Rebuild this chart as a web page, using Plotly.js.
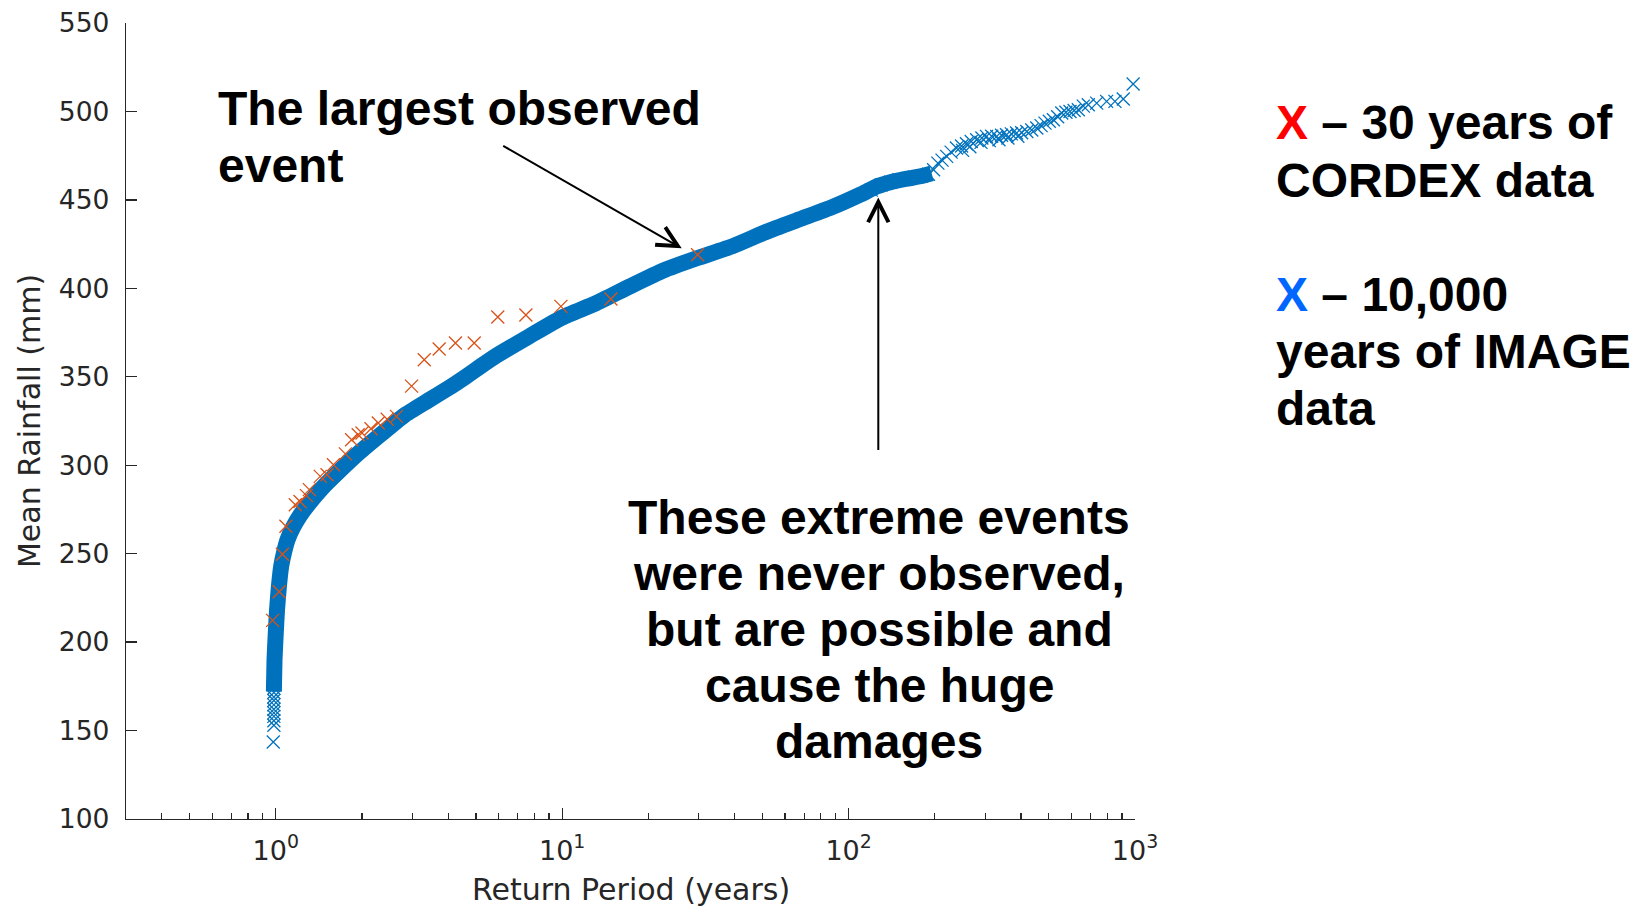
<!DOCTYPE html>
<html><head><meta charset="utf-8">
<script src="https://cdn.plot.ly/plotly-3.0.1.min.js"></script>
<style>html,body{margin:0;padding:0;background:#fff;} #chart{width:1645px;height:908px;}</style>
</head><body><div id="chart"></div>
<script>
// ---- DATA ----
// CORDEX, 30 years: return period (years) and mean rainfall (mm)
const cordexPeriod = [0.975, 1.028, 1.055, 1.085, 1.17, 1.215, 1.28, 1.31, 1.43, 1.51, 1.59, 1.75, 1.84, 1.94, 2.0, 2.15, 2.28, 2.45, 2.64, 2.98, 3.3, 3.72, 4.24, 4.93, 5.96, 7.47, 9.9, 14.8, 29.7];
const cordexRain   = [212.3, 228.5, 249.7, 265.5, 277.7, 279.5, 282.8, 286.2, 293.7, 294.6, 300.3, 306.4, 314.4, 317.2, 318.2, 320.6, 323.9, 326, 327.6, 344.7, 359.6, 365.7, 369.1, 369.1, 383.8, 384.9, 389.8, 394, 419];

// IMAGE, 10,000 years: centre of the dense band of markers
const imageBandPeriod = [0.985, 0.99, 1.0, 1.01, 1.025, 1.045, 1.07, 1.1, 1.15, 1.22, 1.3, 1.45, 1.65, 1.95, 2.35, 2.8, 3.4, 4.0, 4.6, 5.2, 5.9, 7.7, 10, 13.1, 17.2, 22.5, 29.5, 39.6, 51.7, 67.4, 88, 110, 125, 140, 160, 180, 195];
const imageBandRain   = [172, 190, 205, 218, 231, 243, 251, 258, 265, 272, 278, 287, 296, 307, 318, 328, 336.5, 343.5, 350, 356, 362, 373, 383.5, 391.5, 401, 410, 417, 424, 432, 439, 446, 453, 457.5, 460, 462, 463.5, 465];

// IMAGE: individually visible markers, low tail
const imageLowPeriod = [0.98, 0.985, 0.985, 0.985, 0.985, 0.985, 0.985, 0.985, 0.985, 0.985, 0.985];
const imageLowRain   = [143.5, 153, 155.5, 158, 160, 162, 164.5, 167, 169, 171.5, 174];

// IMAGE: individually visible markers, upper tail
const imageHighPeriod = [120, 130, 140, 150, 160, 170, 180, 190, 198, 205, 212, 220, 228, 238, 248, 250, 258, 265, 268, 280, 290, 292, 303, 310, 316, 329, 335, 342, 356, 360, 370, 386, 390, 402, 419, 436, 454, 470, 485, 502, 519, 537, 555, 574, 593, 613, 634, 660, 687, 735, 796, 851, 910, 985];
const imageHighRain   = [455.5, 458.5, 460, 461.4, 462, 463, 463.5, 464.5, 467, 470.8, 472.5, 474.6, 477, 479.3, 480.5, 478, 481.7, 480, 483, 484, 482.5, 485, 485.9, 483.5, 486, 485.9, 484, 486.5, 486.8, 485, 487.3, 487.8, 486, 488, 488.7, 489.5, 490.6, 492, 493.4, 494.5, 495.3, 497, 499.1, 499.5, 500, 500.5, 501, 503, 503.8, 504.7, 505.7, 505.7, 507, 515.5];

// Axis ticks
const xTickVals  = [1, 10, 100, 1000];
const xTickText  = ['10<sup>0</sup>', '10<sup>1</sup>', '10<sup>2</sup>', '10<sup>3</sup>'];
const xMinorVals = [0.4, 0.5, 0.6, 0.7, 0.8, 0.9, 2, 3, 4, 5, 6, 7, 8, 9, 20, 30, 40, 50, 60, 70, 80, 90, 200, 300, 400, 500, 600, 700, 800, 900];
const yTickVals  = [100, 150, 200, 250, 300, 350, 400, 450, 500, 550];

// ---- STYLE ----
const BLUE = '#0072BD', RED = '#D95319', AX = '#262626';
const PL = 126, PR = 1135, PT = 23, PB = 819;           // plot area in px
const px = v => (v - PL) / (PR - PL);
const py = v => (PB - v) / (PB - PT);
const bigFont = {family: 'Liberation Sans, Arial, sans-serif', size: 48, color: '#000', weight: 'bold'};
const mid = 0.3465 * 48;                                 // baseline -> box centre

const traces = [
  {x: imageBandPeriod, y: imageBandRain, mode: 'lines', line: {color: BLUE, width: 16, shape: 'spline', smoothing: 0.5}, hoverinfo: 'skip'},
  {x: imageLowPeriod, y: imageLowRain, mode: 'markers', cliponaxis: false,
   marker: {symbol: 'x-thin-open', size: 13, color: BLUE, line: {width: 1.3, color: BLUE}}},
  {x: imageHighPeriod, y: imageHighRain, mode: 'markers', cliponaxis: false,
   marker: {symbol: 'x-thin-open', size: 13, color: BLUE, line: {width: 1.3, color: BLUE}}},
  {x: cordexPeriod, y: cordexRain, mode: 'markers', cliponaxis: false,
   marker: {symbol: 'x-thin-open', size: 13, color: RED, line: {width: 1.3, color: RED}}}
];

function textLine(t, x, base, anchor) {
  return {text: t, xref: 'paper', yref: 'paper', x: px(x), y: py(base - mid), xanchor: anchor, yanchor: 'middle',
          showarrow: false, font: bigFont, borderpad: 0};
}

const annotations = [
  textLine('The largest observed', 217, 125, 'left'),
  textLine('event', 217, 181.7, 'left'),
  textLine('These extreme events', 879, 534.5, 'center'),
  textLine('were never observed,', 879, 590.5, 'center'),
  textLine('but are possible and', 879, 646.5, 'center'),
  textLine('cause the huge', 879, 702, 'center'),
  textLine('damages', 879, 758, 'center'),
  textLine('<span style="color:#ff0000">X</span> – 30 years of', 1275, 139.3, 'left'),
  textLine('CORDEX data', 1275, 196.7, 'left'),
  textLine('<span style="color:#0066ff">X</span> – 10,000', 1275, 310.7, 'left'),
  textLine('years of IMAGE', 1275, 368.3, 'left'),
  textLine('data', 1275, 425, 'left'),
  // x-axis title, placed exactly under the axis
  {text: 'Return Period (years)', xref: 'paper', yref: 'paper', x: 0.5, y: py(889.6), xanchor: 'center', yanchor: 'middle',
   showarrow: false, borderpad: 0, font: {family: 'DejaVu Sans, sans-serif', size: 30, color: AX}},
  {text: '', xref: 'paper', yref: 'paper', x: px(681.7), y: py(248.3), ax: -180, ay: -103.3,
   showarrow: true, arrowhead: 5, arrowsize: 2, arrowwidth: 2, arrowcolor: '#000', standoff: 0},
  {text: '', xref: 'paper', yref: 'paper', x: px(878.3), y: py(197.5), ax: 0, ay: 254,
   showarrow: true, arrowhead: 5, arrowsize: 2, arrowwidth: 2, arrowcolor: '#000', standoff: 0}
];

const axisCommon = {
  showline: true, linecolor: AX, linewidth: 1.3, mirror: false, showgrid: false, zeroline: false,
  ticks: 'inside', ticklen: 10.7, tickwidth: 1.3, tickcolor: AX
};

const layout = {
  width: 1645, height: 908,
  margin: {l: PL, r: 1645 - PR, t: PT, b: 908 - PB, pad: 0},
  paper_bgcolor: '#fff', plot_bgcolor: '#fff', showlegend: false,
  font: {family: 'DejaVu Sans, sans-serif', color: AX},
  xaxis: Object.assign({}, axisCommon, {
    type: 'log', range: [Math.log10(0.3), 3], tickmode: 'array', tickvals: xTickVals, ticktext: xTickText,
    tickfont: {family: 'DejaVu Sans, sans-serif', size: 27, color: AX}, ticklabelstandoff: 7,
    minor: {tickmode: 'array', tickvals: xMinorVals, ticks: 'inside', ticklen: 6.3, tickwidth: 1.3, tickcolor: AX, showgrid: false}
  }),
  yaxis: Object.assign({}, axisCommon, {
    range: [100, 550], tickmode: 'array', tickvals: yTickVals, ticktext: yTickVals.map(String),
    tickfont: {family: 'DejaVu Sans, sans-serif', size: 26.5, color: AX}, ticklabelstandoff: 10,
    title: {text: 'Mean Rainfall (mm)', font: {family: 'DejaVu Sans, sans-serif', size: 30, color: AX}, standoff: 9}
  }),
  annotations: annotations
};

Plotly.newPlot('chart', traces, layout, {staticPlot: true});
</script>
</body></html>
